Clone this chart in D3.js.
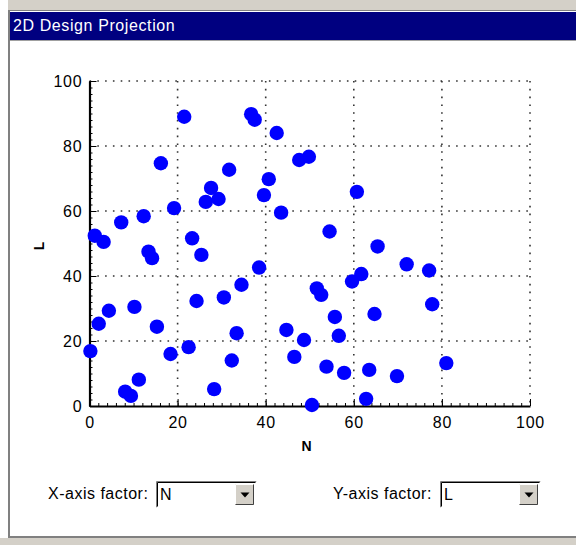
<!DOCTYPE html>
<html>
<head>
<meta charset="utf-8">
<script src="https://cdn.jsdelivr.net/npm/d3@7"></script>
<style>
  body { margin: 0; background: #fff; }
  svg { display: block; }
</style>
</head>
<body>
<script>
// factor N (x) and factor L (y) of each design point
var nValues = [0.2, 1.2, 3.2, 2.1, 4.4, 7.2, 12.3, 16.2, 19.2, 21.5,
  27.6, 26.4, 29.3, 31.7, 36.7, 37.5, 42.5, 47.6, 49.8, 40.7,
  39.6, 43.5, 60.7, 54.5, 65.4, 23.3, 13.4, 14.2, 25.4, 10.2,
  15.3, 24.3, 30.5, 18.4, 22.5, 11.2, 8.1, 9.4, 28.3, 33.4,
  32.3, 34.5, 38.5, 51.6, 52.6, 44.7, 48.7, 46.5, 55.7, 56.6,
  53.8, 57.8, 50.5, 59.6, 61.7, 64.7, 63.5, 62.8, 72.0, 77.1,
  77.8, 81.0, 69.8];
var lValues = [16.9, 52.4, 50.5, 25.3, 29.3, 56.5, 58.4, 74.7, 60.9, 89.0,
  67.1, 62.8, 63.7, 72.7, 89.8, 88.1, 84.0, 75.7, 76.7, 69.8,
  64.9, 59.5, 65.9, 53.7, 49.1, 51.6, 47.5, 45.5, 46.5, 30.5,
  24.4, 32.3, 33.4, 16.0, 18.1, 8.1, 4.4, 3.1, 5.2, 22.4,
  14.0, 37.3, 42.6, 36.2, 34.2, 23.4, 20.3, 15.1, 27.4, 21.6,
  12.1, 10.2, 0.3, 38.3, 40.6, 28.3, 11.1, 2.2, 43.6, 41.7,
  31.3, 13.2, 9.2];
var xTicks = [0, 20, 40, 60, 80, 100];
var yTicks = [0, 20, 40, 60, 80, 100];
var minorTicks = d3.range(0, 101, 2);
var xFactor = "N", yFactor = "L";

var W = 576, H = 545;
var margin = { top: 81, right: 46, bottom: 139, left: 89.5 };
var width = W - margin.left - margin.right;
var height = H - margin.top - margin.bottom;
var font = "Arial, 'Liberation Sans', sans-serif";

var svg = d3.select("body").append("svg")
    .attr("width", W)
    .attr("height", H);

// window frame
svg.append("rect").attr("width", W).attr("height", H).attr("fill", "#fff");
svg.append("rect").attr("width", W).attr("height", 10).attr("fill", "#d4d0c8");
svg.append("rect").attr("width", 8).attr("height", H).attr("fill", "#fff");
svg.append("rect").attr("x", 8).attr("y", 10).attr("width", W - 8).attr("height", 1).attr("fill", "#808080");
svg.append("rect").attr("x", 8).attr("y", 10).attr("width", 2).attr("height", 527).attr("fill", "#808080");
svg.append("rect").attr("x", 10).attr("y", 12).attr("width", W - 10).attr("height", 28).attr("fill", "#000080");
svg.append("rect").attr("x", 10).attr("y", 40).attr("width", W - 10).attr("height", 1).attr("fill", "#a0a0a0");
svg.append("rect").attr("x", 8).attr("y", 536).attr("width", W - 8).attr("height", 2).attr("fill", "#808080");
svg.append("rect").attr("x", 0).attr("y", 538).attr("width", W).attr("height", 7).attr("fill", "#d4d0c8");

svg.append("text")
    .attr("x", 13)
    .attr("y", 31)
    .style("font-family", font)
    .style("font-size", "16px")
    .style("letter-spacing", "0.6px")
    .style("fill", "#fff")
    .text("2D Design Projection");

var g = svg.append("g")
    .attr("transform", "translate(" + margin.left + "," + margin.top + ")");

var x = d3.scaleLinear().domain([0, 100]).range([0, width]);
var y = d3.scaleLinear().domain([0, 100]).range([height, 0]);

// dotted grid
g.selectAll(".vgrid")
  .data(xTicks.slice(1))
  .enter().append("line")
    .attr("x1", function(d) { return x(d); })
    .attr("x2", function(d) { return x(d); })
    .attr("y1", 0)
    .attr("y2", height)
    .attr("stroke", "#333")
    .attr("stroke-width", 1.6)
    .attr("stroke-dasharray", "1.6,6.2");
g.selectAll(".hgrid")
  .data(yTicks.slice(1))
  .enter().append("line")
    .attr("x1", 0)
    .attr("x2", width)
    .attr("y1", function(d) { return y(d); })
    .attr("y2", function(d) { return y(d); })
    .attr("stroke", "#333")
    .attr("stroke-width", 1.6)
    .attr("stroke-dasharray", "1.6,6.2");

// minor ticks
g.append("g")
    .attr("transform", "translate(0," + height + ")")
    .call(d3.axisBottom(x).tickValues(minorTicks).tickSize(-3).tickSizeOuter(0).tickFormat(""))
    .call(function(a) { a.select(".domain").remove(); });
g.append("g")
    .call(d3.axisLeft(y).tickValues(minorTicks).tickSize(-3).tickSizeOuter(0).tickFormat(""))
    .call(function(a) { a.select(".domain").remove(); });

// major axes
var xAxis = g.append("g")
    .attr("transform", "translate(0," + height + ")")
    .call(d3.axisBottom(x).tickValues(xTicks).tickSize(-7).tickSizeOuter(0).tickPadding(11));
var yAxis = g.append("g")
    .call(d3.axisLeft(y).tickValues(yTicks).tickSize(-7).tickSizeOuter(0).tickPadding(7));

[xAxis, yAxis].forEach(function(a) {
  a.select(".domain").attr("stroke-width", 2.2).attr("stroke", "#000");
  a.selectAll(".tick line").attr("stroke", "#000");
  a.selectAll("text")
    .style("font-family", font)
    .style("font-size", "16px")
    .style("letter-spacing", "0.8px")
    .style("fill", "#000");
});

// points
g.selectAll("circle")
  .data(nValues)
  .enter().append("circle")
    .attr("cx", function(d) { return x(d); })
    .attr("cy", function(d, i) { return y(lValues[i]); })
    .attr("r", 7.2)
    .attr("fill", "#0000ff");

// axis titles
svg.append("text")
    .attr("x", 306.5)
    .attr("y", 451)
    .attr("text-anchor", "middle")
    .style("font-family", font)
    .style("font-size", "14px")
    .style("font-weight", "bold")
    .text(xFactor);
svg.append("text")
    .attr("transform", "translate(44,246) rotate(-90)")
    .attr("text-anchor", "middle")
    .style("font-family", font)
    .style("font-size", "14px")
    .style("font-weight", "bold")
    .text(yFactor);

// factor pickers
function combo(labelX, boxX, label, value) {
  svg.append("text")
    .attr("x", labelX)
    .attr("y", 499)
    .style("font-family", font)
    .style("font-size", "16px")
    .style("letter-spacing", "0.5px")
    .text(label);
  var c = svg.append("g").attr("transform", "translate(" + boxX + ",481)");
  c.append("rect").attr("width", 101).attr("height", 27).attr("fill", "#fff");
  c.append("path").attr("d", "M0.5,26.5V0.5H100.5").attr("fill", "none").attr("stroke", "#808080");
  c.append("path").attr("d", "M1.5,25.5V1.5H99.5").attr("fill", "none").attr("stroke", "#000");
  c.append("path").attr("d", "M0.5,26.5H100.5V0.5").attr("fill", "none").attr("stroke", "#fff");
  c.append("rect").attr("x", 79).attr("y", 3).attr("width", 19).attr("height", 21).attr("fill", "#d4d0c8");
  c.append("path").attr("d", "M79.5,23.5V3.5H97.5").attr("fill", "none").attr("stroke", "#fff");
  c.append("path").attr("d", "M79.5,23.5H97.5V3.5").attr("fill", "none").attr("stroke", "#404040");
  c.append("path").attr("d", "M84.5,11.5h9l-4.5,5z").attr("fill", "#000");
  c.append("text")
    .attr("x", 4)
    .attr("y", 19)
    .style("font-family", font)
    .style("font-size", "16px")
    .text(value);
}
combo(48, 156, "X-axis factor:", xFactor);
combo(333, 440, "Y-axis factor:", yFactor);
</script>
</body>
</html>
